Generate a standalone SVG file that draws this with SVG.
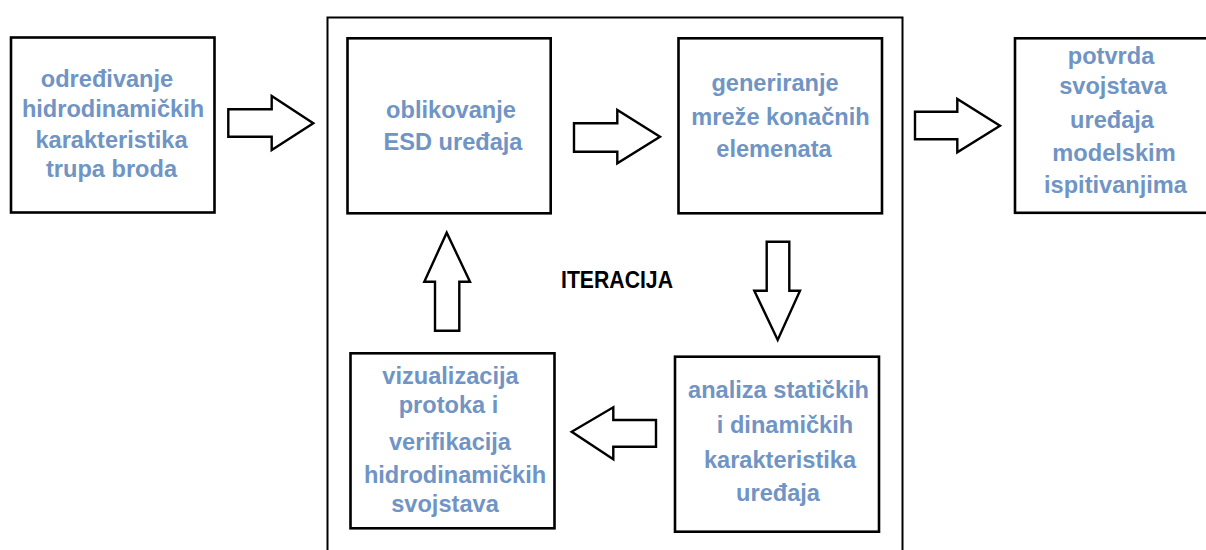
<svg xmlns="http://www.w3.org/2000/svg" width="1206" height="550" viewBox="0 0 1206 550">
<style>
.box{fill:#fff;stroke:#000;stroke-width:2.6}
.outer{fill:none;stroke:#000;stroke-width:2}
.arr{fill:#fff;stroke:#000;stroke-width:2.4;stroke-linejoin:miter}
.t{font-family:"Liberation Sans",Arial,sans-serif;font-weight:bold;font-size:23.6px;fill:#7094c4;text-anchor:middle}
.it{font-family:"Liberation Sans",Arial,sans-serif;font-weight:bold;font-size:24.5px;fill:#000}
</style>
<rect width="1206" height="550" fill="#fff"/>
<g id="iteracija">
<rect class="outer" x="327.5" y="17.5" width="575" height="560"/>
<text class="it" x="561" y="287.7" textLength="112" lengthAdjust="spacingAndGlyphs">ITERACIJA</text>
</g>
<g id="n1">
<rect class="box" x="11" y="37.5" width="203.5" height="175"/>
<text class="t"><tspan x="107" y="87">određivanje</tspan><tspan x="113" y="117">hidrodinamičkih</tspan><tspan x="111.5" y="147.5">karakteristika</tspan><tspan x="111.5" y="176.5">trupa broda</tspan></text>
</g>
<g id="n2">
<rect class="box" x="347.5" y="38.3" width="203.2" height="175"/>
<text class="t"><tspan x="451" y="118.3">oblikovanje</tspan><tspan x="453" y="150">ESD uređaja</tspan></text>
</g>
<g id="n3">
<rect class="box" x="678.5" y="38.3" width="203.5" height="175"/>
<text class="t"><tspan x="775" y="91">generiranje</tspan><tspan x="780.5" y="124.5">mreže konačnih</tspan><tspan x="774" y="157">elemenata</tspan></text>
</g>
<g id="n4">
<rect class="box" x="1015" y="38.3" width="195" height="174.5"/>
<text class="t"><tspan x="1111" y="63.5">potvrda</tspan><tspan x="1113" y="94">svojstava</tspan><tspan x="1112" y="128">uređaja</tspan><tspan x="1114" y="160.5">modelskim</tspan><tspan x="1115.5" y="192.5">ispitivanjima</tspan></text>
</g>
<g id="n5">
<rect class="box" x="675" y="356.7" width="204" height="175"/>
<text class="t"><tspan x="778.5" y="398.3">analiza statičkih</tspan><tspan x="785" y="432.7">i dinamičkih</tspan><tspan x="780" y="468.3">karakteristika</tspan><tspan x="778" y="501.3">uređaja</tspan></text>
</g>
<g id="n6">
<rect class="box" x="350.5" y="353.3" width="204" height="175"/>
<text class="t"><tspan x="450.5" y="384">vizualizacija</tspan><tspan x="448.5" y="413">protoka i</tspan><tspan x="450" y="450">verifikacija</tspan><tspan x="455" y="483">hidrodinamičkih</tspan><tspan x="445" y="512">svojstava</tspan></text>
</g>
<g id="connectors">
<polygon class="arr" points="228.3,109.3 271.7,109.3 271.7,96 313.3,123.3 271.7,150 271.7,136.7 228.3,136.7"/>
<polygon class="arr" points="574,123.3 617.3,123.3 617.3,110 660,136.7 617.3,163.3 617.3,151.7 574,151.7"/>
<polygon class="arr" points="915,111.7 957.3,111.7 957.3,99 1000,125.7 957.3,152.3 957.3,139.3 915,139.3"/>
<polygon class="arr" points="766.7,241.7 789.3,241.7 789.3,290.7 800,290.7 777.7,340 754.3,290.7 766.7,290.7"/>
<polygon class="arr" points="656,420 613.3,420 613.3,407.3 571.7,431.7 613.3,459.3 613.3,446.7 656,446.7"/>
<polygon class="arr" points="435,330.7 459.3,330.7 459.3,281.7 470,281.7 446.7,232.7 424.3,281.7 435,281.7"/>
</g>
</svg>
